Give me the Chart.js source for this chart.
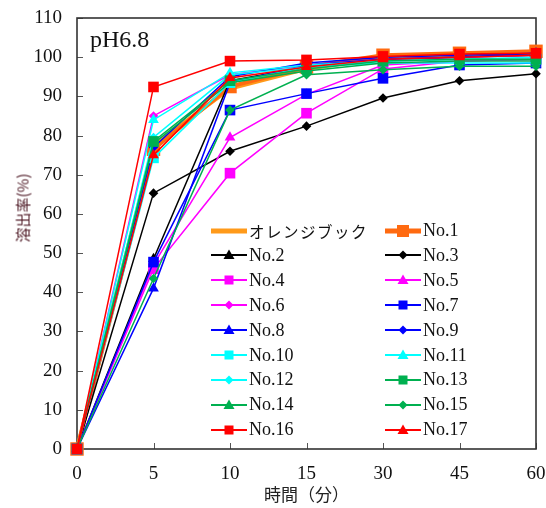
<!DOCTYPE html>
<html>
<head>
<meta charset="utf-8">
<script src="https://cdn.jsdelivr.net/npm/chart.js@4/dist/chart.umd.min.js"></script>
<style>
body { margin: 0; background: #fff; }
#wrap { position: relative; width: 546px; height: 508px; }
#ph { position: absolute; left: 90px; top: 26px; font: 24px 'Liberation Serif', serif; color: #111; }
#ytitle { position: absolute; left: 22px; top: 208px; transform: translate(-50%, -50%) rotate(-90deg);
          font: 15px 'Noto Sans CJK JP', sans-serif; color: #4a1420; white-space: nowrap; }
.leg { position: absolute; display: flex; align-items: center; height: 20px; font: 18px 'Liberation Serif', serif; color: #111; white-space: nowrap; }
.leg svg { margin-right: 2px; }
.jp { font-family: 'Noto Sans CJK JP', sans-serif; font-size: 15.5px; letter-spacing: 1.5px; }
</style>
</head>
<body>
<div id="wrap">
  <canvas id="c" width="546" height="508"></canvas>
  <div id="ph">pH6.8</div>
  <div id="ytitle">溶出率(%)</div>
  <div id="legend"></div>
</div>
<script>
// time points (minutes)
var times = ['0', '5', '10', '15', '30', '45', '60'];
var yTicks = [0, 10, 20, 30, 40, 50, 60, 70, 80, 90, 100, 110];

var names = ['オレンジブック', 'No.1', 'No.2', 'No.3', 'No.4', 'No.5', 'No.6', 'No.7', 'No.8',
             'No.9', 'No.10', 'No.11', 'No.12', 'No.13', 'No.14', 'No.15', 'No.16', 'No.17'];

var orangeBook = [0, 77.5, 92, 97, 100, 100.5, 101];
var no1  = [0, 76.5, 92.5, 97.5, 100.5, 101, 101.5];
var no2  = [0, 48.5, 94, 97.5, 99.5, 100, 100.5];
var no3  = [0, 65.3, 76, 82.4, 89.6, 94, 95.8];
var no4  = [0, 46, 70.4, 85.7, 97, 99, 99.5];
var no5  = [0, 47, 79.5, 90.5, 98, 99, 99.5];
var no6  = [0, 85, 95.5, 98, 99.5, 100, 100.5];
var no7  = [0, 47.7, 86.5, 90.7, 94.6, 98, 98.5];
var no8  = [0, 41, 93.5, 98, 99.5, 100, 101];
var no9  = [0, 77, 95, 98.5, 100, 100.5, 101];
var no10 = [0, 74.3, 93.5, 97.5, 99, 99.5, 99.5];
var no11 = [0, 84, 96, 98, 99, 99.5, 100];
var no12 = [0, 79.5, 95.5, 97.5, 98.5, 98.5, 98.5];
var no13 = [0, 78.5, 94, 97, 99, 99.5, 99.5];
var no14 = [0, 78, 93.5, 96.5, 98.5, 99, 99];
var no15 = [0, 43.5, 86.5, 95.5, 96.8, 97.7, 97.7];
var no16 = [0, 92.4, 99, 99.3, 100.2, 100.8, 101];
var no17 = [0, 75, 94.7, 97.5, 99.5, 100, 100.5];

var seriesValues = [orangeBook, no1, no2, no3, no4, no5, no6, no7, no8, no9,
                    no10, no11, no12, no13, no14, no15, no16, no17];

// color / marker per series
var styles = [
  { c: '#ff9a1a', m: 'none', w: 4 },
  { c: '#ff6a10', m: 'rect', w: 4, r: 9.5 },
  { c: '#000000', m: 'triangle' },
  { c: '#000000', m: 'rectRot' },
  { c: '#ff00ff', m: 'rect' },
  { c: '#ff00ff', m: 'triangle' },
  { c: '#ff00ff', m: 'rectRot' },
  { c: '#0000ff', m: 'rect' },
  { c: '#0000ff', m: 'triangle' },
  { c: '#0000ff', m: 'rectRot' },
  { c: '#00ffff', m: 'rect' },
  { c: '#00ffff', m: 'triangle' },
  { c: '#00ffff', m: 'rectRot' },
  { c: '#00b050', m: 'rect' },
  { c: '#00b050', m: 'triangle' },
  { c: '#00b050', m: 'rectRot' },
  { c: '#ff0000', m: 'rect' },
  { c: '#ff0000', m: 'triangle' }
];

function markerRadius(s) {
  if (s.r) return s.r;
  if (s.m === 'rect') return 7.5;
  if (s.m === 'triangle') return 6.2;
  if (s.m === 'rectRot') return 4.8;
  return 0;
}

var datasets = [];
for (var i = 0; i < names.length; i++) {
  var s = styles[i];
  datasets.push({
    label: names[i],
    data: seriesValues[i],
    borderColor: s.c,
    backgroundColor: s.c,
    borderWidth: s.w || 1.5,
    pointStyle: s.m === 'none' ? false : s.m,
    pointRadius: markerRadius(s),
    pointBorderWidth: 0,
    pointBackgroundColor: s.c,
    tension: 0,
    clip: false,
    order: names.length - i
  });
}

// axis frame and inward tick marks
var frame = {
  id: 'frame',
  beforeDatasetsDraw: function (chart) {
    var ctx = chart.ctx, a = chart.chartArea, x = chart.scales.x, y = chart.scales.y;
    ctx.save();
    ctx.strokeStyle = '#555';
    ctx.lineWidth = 1;
    ctx.beginPath();
    for (var i = 0; i < y.ticks.length; i++) {
      var py = Math.round(y.getPixelForTick(i)) + 0.5;
      ctx.moveTo(a.left, py); ctx.lineTo(a.left + 6, py);
    }
    for (var j = 0; j < x.ticks.length; j++) {
      var px = Math.round(x.getPixelForTick(j)) + 0.5;
      ctx.moveTo(px, a.bottom); ctx.lineTo(px, a.bottom - 6);
    }
    ctx.stroke();
    ctx.strokeStyle = '#333';
    ctx.lineWidth = 1.6;
    ctx.strokeRect(a.left, a.top, a.right - a.left, a.bottom - a.top);
    ctx.restore();
  }
};

new Chart(document.getElementById('c'), {
  type: 'line',
  data: { labels: times, datasets: datasets },
  options: {
    responsive: false,
    animation: false,
    layout: { autoPadding: false, padding: { top: 18, right: 10, bottom: 0, left: 0 } },
    plugins: { legend: { display: false }, tooltip: { enabled: false } },
    scales: {
      x: {
        offset: false,
        grid: { display: false, drawTicks: false },
        border: { display: false },
        ticks: { padding: 14, color: '#111', font: { family: 'Liberation Serif', size: 19 }, maxRotation: 0 },
        title: { display: true, text: '時間（分）', color: '#222', padding: { top: 0, bottom: 3 },
                 font: { family: 'Noto Sans CJK JP', size: 17 } },
        afterFit: function (s) { s.height = 59; s.paddingLeft = 0; s.paddingRight = 0; }
      },
      y: {
        min: 0, max: 110,
        grid: { display: false, drawTicks: false },
        border: { display: false },
        afterBuildTicks: function (s) { s.ticks = yTicks.map(function (v) { return { value: v }; }); },
        ticks: { padding: 15, color: '#111', font: { family: 'Liberation Serif', size: 19 } },
        afterFit: function (s) { s.width = 77; s.paddingTop = 0; s.paddingBottom = 0; }
      }
    }
  },
  plugins: [frame]
});

// legend inside the plot, two columns
function markerSvg(s) {
  var c = s.c, lw = s.w ? 5 : 1.8;
  var out = '<svg width="36" height="16" viewBox="0 0 36 16">' +
    '<line x1="0" y1="8" x2="36" y2="8" stroke="' + c + '" stroke-width="' + lw + '"/>';
  if (s.m === 'rect') {
    var h = s.r ? 6 : 4.5;
    out += '<rect x="' + (18 - h) + '" y="' + (8 - h) + '" width="' + (2 * h) + '" height="' + (2 * h) + '" fill="' + c + '"/>';
  } else if (s.m === 'triangle') {
    out += '<polygon points="18,2.5 23.5,12 12.5,12" fill="' + c + '"/>';
  } else if (s.m === 'rectRot') {
    out += '<polygon points="18,3.5 22.5,8 18,12.5 13.5,8" fill="' + c + '"/>';
  }
  return out + '</svg>';
}

var legend = document.getElementById('legend');
for (var k = 0; k < names.length; k++) {
  var col = k % 2, row = Math.floor(k / 2);
  var el = document.createElement('div');
  el.className = 'leg';
  el.style.left = (col === 0 ? 211 : 385) + 'px';
  el.style.top = (220.5 + row * 24.9) + 'px';
  el.innerHTML = markerSvg(styles[k]) + '<span' + (k === 0 ? ' class="jp"' : '') + '>' + names[k] + '</span>';
  legend.appendChild(el);
}
</script>
</body>
</html>
